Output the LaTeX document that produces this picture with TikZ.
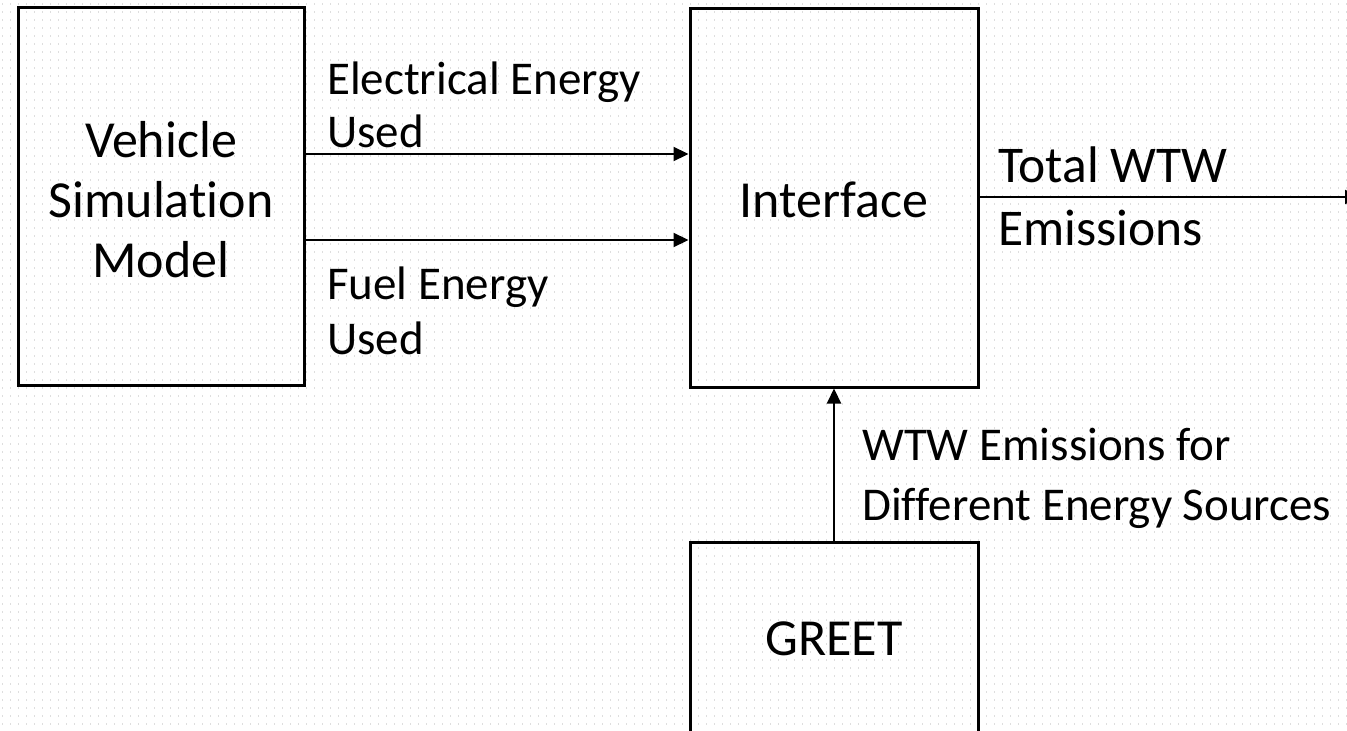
\documentclass[tikz,border=0pt]{standalone}
\usepackage{fontspec}
\setmainfont{Carlito}[Ligatures={NoCommon,NoContextual}]
\usetikzlibrary{arrows.meta}
\begin{document}
\begin{tikzpicture}[x=1pt,y=-1pt,
  box/.style={draw=black, line width=3pt, inner sep=0pt, align=center, font=\fontsize{52}{60}\selectfont},
  lab/.style={inner sep=0pt, align=left, anchor=west},
  conn/.style={line width=2.2pt, -{Triangle[length=15pt,width=14pt]}},
  gridc/.style={draw=black!13, line width=1.4pt, dash pattern=on 1.4pt off 6.6pt}]
\fill[white] (0,0) rectangle (1347,731);
\useasboundingbox (0,0) rectangle (1347,731);
\foreach \yy in {4,12,...,728} \draw[gridc] (2,\yy) -- (1347,\yy);
\node[box, minimum width=286pt, minimum height=378pt] (veh) at (161,196) {\rule{0pt}{43pt}Vehicle\\Simulation\\Model};
\node[box, minimum width=288pt, minimum height=379pt] (int) at (834,197.5) {\rule{0pt}{40pt}Interface};
\node[box, minimum width=288pt, minimum height=194pt] (greet) at (834,639) {GREET};
\coordinate (outend) at (1360,197);
\draw[conn] (veh.east |- 0,154) -- (int.west |- 0,154);
\draw[conn] (veh.east |- 0,240) -- (int.west |- 0,240);
\draw[conn] (int.east |- outend) -- (outend);
\draw[conn] (greet.north) -- (int.south);
\node[lab, font=\fontsize{47}{53}\selectfont] (lel) at (327,105) {Electrical Energy\\Used};
\node[lab, font=\fontsize{47}{55}\selectfont] (lfu) at (327,311) {Fuel Energy\\Used};
\node[lab, font=\fontsize{51.5}{63}\selectfont] (lto) at (998,196) {Total WTW\\Emissions};
\node[lab, font=\fontsize{47}{60}\selectfont] (lwt) at (862,478.5) {WTW Emissions for\\Different Energy Sources};
\end{tikzpicture}
\end{document}
